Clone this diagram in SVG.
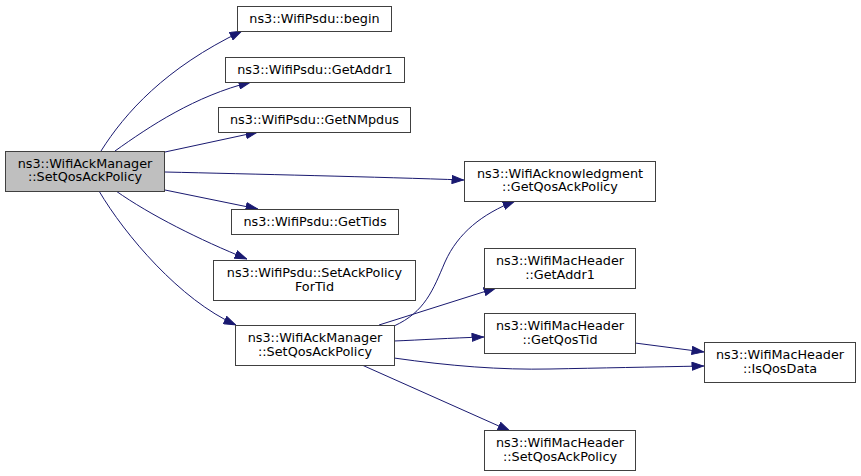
<svg xmlns="http://www.w3.org/2000/svg" width="861" height="476" viewBox="0 0 861 476">
<style>
.n rect{fill:#ffffff;stroke:#404040;stroke-width:1}
.n.main rect{fill:#bfbfbf}
.n text{font-family:"DejaVu Sans",sans-serif;font-size:12.8px;fill:#000000;text-anchor:middle}
.e path{fill:none;stroke:#191970;stroke-width:1;marker-end:url(#ah)}
</style>
<defs>
<marker id="ah" viewBox="0 0 12.5 9" refX="12.5" refY="4.5" markerWidth="12.5" markerHeight="9" markerUnits="userSpaceOnUse" orient="auto">
<path d="M0.5,0.5 L12,4.5 L0.5,8.5 Z" fill="#191970" stroke="#191970" stroke-width="1"/>
</marker>
</defs>
<rect width="861" height="476" fill="#ffffff"/>
<g class="e" id="edges">
<path d="M101,151 C125,113 165,68 242,31"/>
<path d="M115,151 C150,126 195,96 251,82"/>
<path d="M165,152 L258,132"/>
<path d="M165,172 C250,174 380,177 464,180"/>
<path d="M165,190 L258,209"/>
<path d="M116,191 C150,215 200,240 247,259"/>
<path d="M99,191 C125,235 180,300 236,325"/>
<path d="M394,326 C425,312 433,290 445,262 C458,233 482,214 515,201"/>
<path d="M379,325 L496,288"/>
<path d="M394,341 C420,340 450,338 484,337"/>
<path d="M394,358 C450,366 500,370 550,369 C600,368 650,367 704,366"/>
<path d="M362,365 L510,431"/>
<path d="M635,343 L704,352"/>
</g>
<g class="n main" id="node1"><rect x="5.5" y="151.5" width="159" height="40"/><text x="85" y="167.5">ns3::WifiAckManager</text><text x="85" y="181">::SetQosAckPolicy</text></g>
<g class="n" id="node2"><rect x="237.5" y="6.5" width="154" height="25"/><text x="314.5" y="23">ns3::WifiPsdu::begin</text></g>
<g class="n" id="node3"><rect x="225.5" y="57.5" width="179" height="25"/><text x="315" y="74">ns3::WifiPsdu::GetAddr1</text></g>
<g class="n" id="node4"><rect x="218.5" y="107.5" width="192" height="25"/><text x="314.5" y="124">ns3::WifiPsdu::GetNMpdus</text></g>
<g class="n" id="node5"><rect x="464.5" y="161.5" width="191" height="40"/><text x="560" y="177.5">ns3::WifiAcknowledgment</text><text x="560" y="191">::GetQosAckPolicy</text></g>
<g class="n" id="node6"><rect x="231.5" y="209.5" width="167" height="25"/><text x="315" y="226">ns3::WifiPsdu::GetTids</text></g>
<g class="n" id="node7"><rect x="213.5" y="260.5" width="202" height="40"/><text x="314.5" y="276.5">ns3::WifiPsdu::SetAckPolicy</text><text x="314.5" y="290.5">ForTid</text></g>
<g class="n" id="node8"><rect x="235.5" y="325.5" width="159" height="40"/><text x="315" y="341.5">ns3::WifiAckManager</text><text x="315" y="355.5">::SetQosAckPolicy</text></g>
<g class="n" id="node9"><rect x="484.5" y="248.5" width="151" height="40"/><text x="560" y="264.5">ns3::WifiMacHeader</text><text x="560" y="278.5">::GetAddr1</text></g>
<g class="n" id="node10"><rect x="484.5" y="313.5" width="151" height="40"/><text x="560" y="329.5">ns3::WifiMacHeader</text><text x="560" y="343.5">::GetQosTid</text></g>
<g class="n" id="node11"><rect x="704.5" y="342.5" width="151" height="40"/><text x="780" y="358.5">ns3::WifiMacHeader</text><text x="780" y="372.5">::IsQosData</text></g>
<g class="n" id="node12"><rect x="484.5" y="430.5" width="151" height="40"/><text x="560" y="446.5">ns3::WifiMacHeader</text><text x="560" y="460.5">::SetQosAckPolicy</text></g>
</svg>
